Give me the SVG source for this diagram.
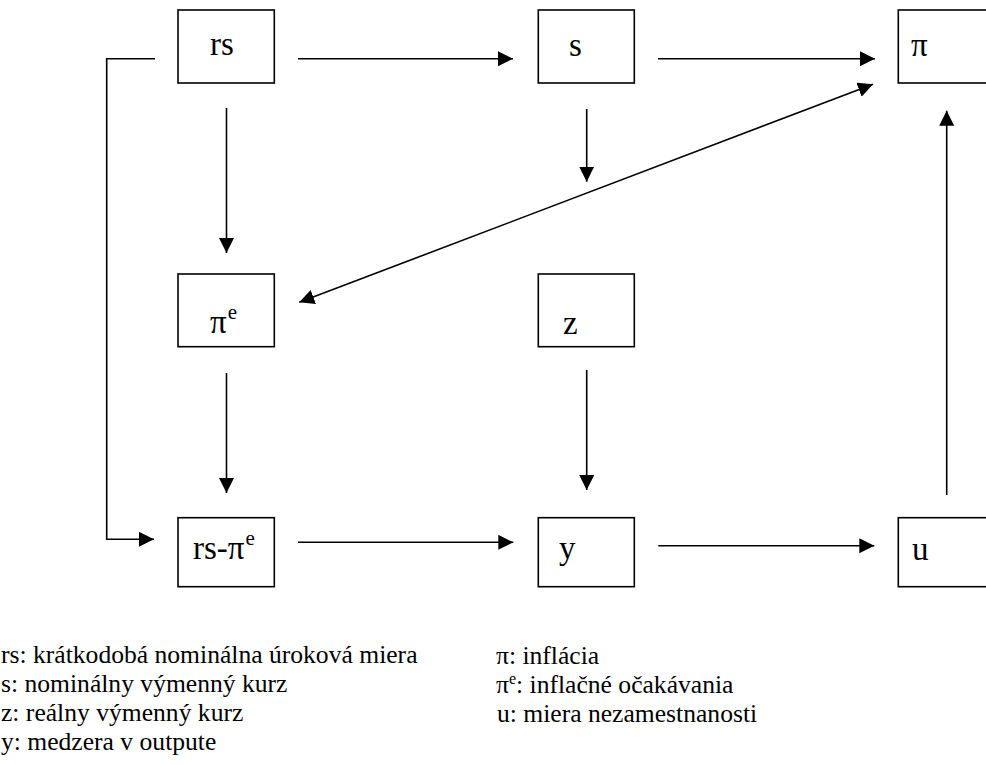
<svg xmlns="http://www.w3.org/2000/svg" width="986" height="765" viewBox="0 0 986 765">
<style>
.box{fill:#fff;stroke:#000;stroke-width:1.6}
.ln{fill:none;stroke:#000;stroke-width:1.6}
.t{font-family:"Liberation Serif","Times New Roman",serif;font-size:33px;fill:#000}
.sup{font-family:"Liberation Serif","Times New Roman",serif;font-size:21px;fill:#000}
.lg{font-family:"Liberation Serif","Times New Roman",serif;font-size:25.6px;fill:#000}
.lgs{font-family:"Liberation Serif","Times New Roman",serif;font-size:16px;fill:#000}
</style>
<defs>
<marker id="ah" markerUnits="userSpaceOnUse" markerWidth="16" markerHeight="16" refX="15" refY="7.5" orient="auto-start-reverse" viewBox="0 0 16 16">
<path d="M0,0 L15,7.5 L0,15 z" fill="#000"/>
</marker>
</defs>
<rect width="986" height="765" fill="#fff"/>
<g id="connectors">
<path class="ln" d="M155,58.7 H106.7 V539.3 H154" marker-end="url(#ah)"/>
<line class="ln" x1="298" y1="58.7" x2="513" y2="58.7" marker-end="url(#ah)"/>
<line class="ln" x1="658" y1="58.7" x2="875" y2="58.7" marker-end="url(#ah)"/>
<line class="ln" x1="226.5" y1="108" x2="226.5" y2="253" marker-end="url(#ah)"/>
<line class="ln" x1="586.7" y1="109" x2="586.7" y2="181.7" marker-end="url(#ah)"/>
<line class="ln" x1="873" y1="84.3" x2="299.3" y2="302.3" marker-start="url(#ah)" marker-end="url(#ah)"/>
<line class="ln" x1="226.5" y1="373" x2="226.5" y2="493" marker-end="url(#ah)"/>
<line class="ln" x1="586.7" y1="370" x2="586.7" y2="490" marker-end="url(#ah)"/>
<line class="ln" x1="946.7" y1="495" x2="946.7" y2="110.7" marker-end="url(#ah)"/>
<line class="ln" x1="298" y1="542.3" x2="513.3" y2="542.3" marker-end="url(#ah)"/>
<line class="ln" x1="658.3" y1="545.7" x2="874.3" y2="545.7" marker-end="url(#ah)"/>
</g>
<g id="node-rs"><rect class="box" x="178" y="10" width="96.3" height="73"/><text class="t" x="210" y="55">rs</text></g>
<g id="node-s"><rect class="box" x="538.3" y="10" width="96" height="73"/><text class="t" x="569" y="56">s</text></g>
<g id="node-pi"><rect class="box" x="898.3" y="10" width="96" height="73"/><text class="t" x="911" y="56">π</text></g>
<g id="node-pie"><rect class="box" x="178" y="274" width="96.3" height="72.7"/><text class="t" x="210" y="333">π<tspan class="sup" dx="1" dy="-14">e</tspan></text></g>
<g id="node-z"><rect class="box" x="538.3" y="274" width="96" height="72.7"/><text class="t" x="563" y="334">z</text></g>
<g id="node-rspie"><rect class="box" x="178" y="517.7" width="96.3" height="69"/><text class="t" x="193" y="559">rs-π<tspan class="sup" dx="1" dy="-14">e</tspan></text></g>
<g id="node-y"><rect class="box" x="538.3" y="517.7" width="96" height="69"/><text class="t" x="559" y="559">y</text></g>
<g id="node-u"><rect class="box" x="898.3" y="517.7" width="96" height="69"/><text class="t" x="912" y="560">u</text></g>
<g id="legend">
<text class="lg" x="1" y="663">rs: krátkodobá nominálna úroková miera</text>
<text class="lg" x="1" y="692">s: nominálny výmenný kurz</text>
<text class="lg" x="1" y="721">z: reálny výmenný kurz</text>
<text class="lg" x="1" y="750">y: medzera v outpute</text>
<text class="lg" x="496" y="664">π: inflácia</text>
<text class="lg" x="496" y="693">π<tspan class="lgs" dy="-9">e</tspan><tspan dy="9">: inflačné očakávania</tspan></text>
<text class="lg" x="497" y="722">u: miera nezamestnanosti</text>
</g>
</svg>
